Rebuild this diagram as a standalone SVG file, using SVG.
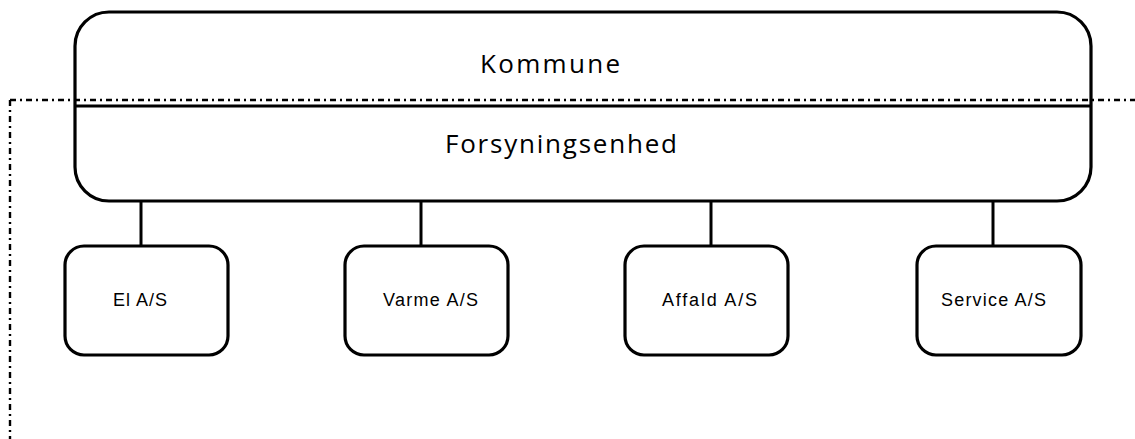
<svg xmlns="http://www.w3.org/2000/svg" width="1135" height="439" viewBox="0 0 1135 439">
<style>
.box{fill:#fff;stroke:#000;stroke-width:3.2}
.conn{stroke:#000;stroke-width:3;fill:none}
.dd{stroke:#000;stroke-width:2.4;fill:none;stroke-dasharray:6 4 2 4}
.big{font-family:"Open Sans","Liberation Sans",sans-serif;font-size:26px;fill:#000}
.small{font-family:"Liberation Sans","Open Sans",sans-serif;font-size:18px;fill:#000}
</style>
<rect x="0" y="0" width="1135" height="439" fill="#fff"/>
<g id="kommune">
<rect class="box" x="75" y="12" width="1016" height="189" rx="34" ry="34"/>
<line x1="75" y1="106" x2="1091" y2="106" stroke="#000" stroke-width="3"/>
<text class="big" x="480" y="73" textLength="140" lengthAdjust="spacing">Kommune</text>
</g>
<g id="forsyningsenhed">
<text class="big" x="445" y="153" textLength="232" lengthAdjust="spacing">Forsyningsenhed</text>
</g>
<g id="boundary">
<path class="dd" d="M10 100 H1135 M10 100 V439"/>
</g>
<g id="connectors">
<line class="conn" x1="141" y1="201" x2="141" y2="246"/>
<line class="conn" x1="421" y1="201" x2="421" y2="246"/>
<line class="conn" x1="711" y1="201" x2="711" y2="246"/>
<line class="conn" x1="993" y1="201" x2="993" y2="246"/>
</g>
<g id="el">
<rect class="box" x="65" y="246" width="163" height="109" rx="19" ry="19"/>
<text class="small" x="113" y="306" textLength="54" lengthAdjust="spacing">El A/S</text>
</g>
<g id="varme">
<rect class="box" x="345" y="246" width="163" height="109" rx="19" ry="19"/>
<text class="small" x="383" y="306" textLength="95" lengthAdjust="spacing">Varme A/S</text>
</g>
<g id="affald">
<rect class="box" x="625" y="246" width="163" height="109" rx="19" ry="19"/>
<text class="small" x="662" y="306" textLength="95" lengthAdjust="spacing">Affald A/S</text>
</g>
<g id="service">
<rect class="box" x="917" y="246" width="164" height="109" rx="19" ry="19"/>
<text class="small" x="941" y="306" textLength="105" lengthAdjust="spacing">Service A/S</text>
</g>
</svg>
